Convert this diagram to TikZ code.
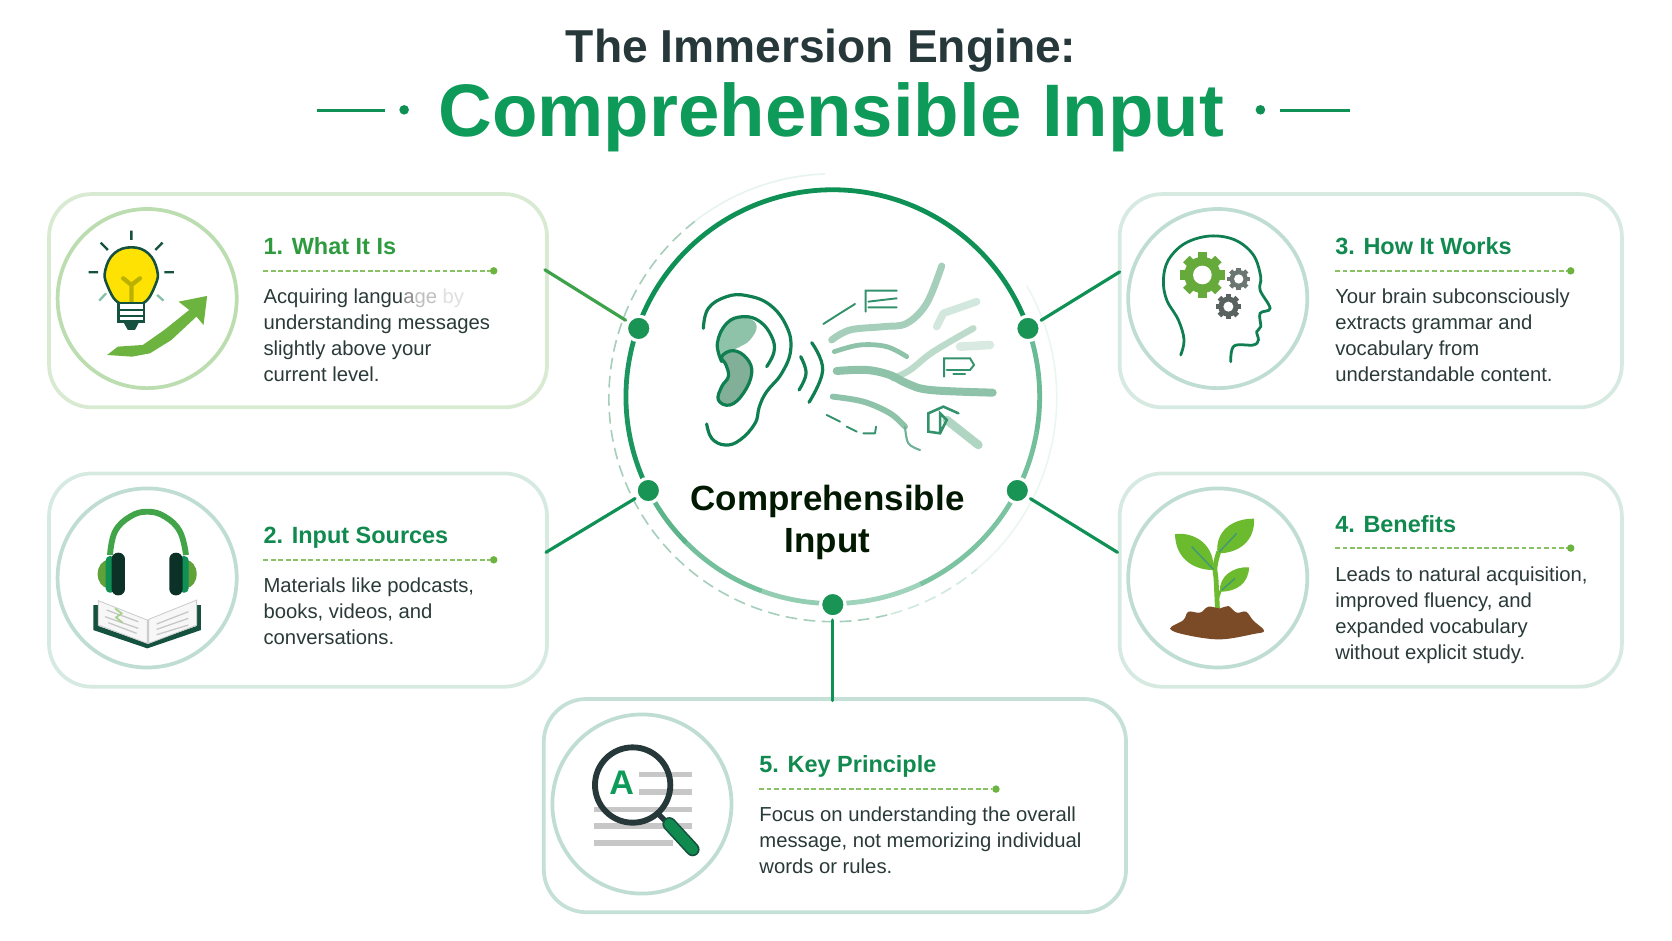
\documentclass[tikz,border=0pt]{standalone}
\usepackage{fontspec}
\setmainfont{Liberation Sans}
\definecolor{headgreen}{HTML}{0E9A58}
\definecolor{headdark}{HTML}{26383A}
\definecolor{hubgreen}{HTML}{0F9155}
\definecolor{dotgreen}{HTML}{1A9455}
\definecolor{inkgreen}{HTML}{0F7F52}
\definecolor{bodyink}{HTML}{2A3A38}
\definecolor{titlegreen}{HTML}{118A4F}
\definecolor{firstgreen}{HTML}{2E9B3F}
\definecolor{limegreen}{HTML}{6CB33F}
\definecolor{leafgreen}{HTML}{6CBB2E}
\definecolor{streamgreen}{HTML}{8FC3A9}
\definecolor{pinegreen}{HTML}{14513F}
\definecolor{soilbrown}{HTML}{7B4A26}
\definecolor{cardline}{HTML}{D6EAE2}
\definecolor{ringline}{HTML}{BFDDD2}
\definecolor{firstcard}{HTML}{D8EAD2}
\definecolor{firstring}{HTML}{BBDDB0}

\newcommand{\gearicon}[5]{
  \begin{scope}[shift={(#1,#2)}]
    \fill[#5] (0,0) circle ({#3*.8});
    \foreach \t in {0,45,...,315} {
      \fill[#5,rotate=\t] ({-.2*#3},{.7*#3}) rectangle ({.2*#3},{#3});
    }
    \fill[white] (0,0) circle (#4);
  \end{scope}
}

\begin{document}
\begin{tikzpicture}[x=1pt,y=-1pt]
  \tikzstyle{card}=[draw=cardline,fill=white,line width=3.5pt,rounded corners=40pt,inner sep=0pt,minimum height=200pt]
  \tikzstyle{ring}=[circle,draw=ringline,fill=white,line width=3.5pt,inner sep=0pt,minimum size=168pt]
  \tikzstyle{hubdot}=[circle,fill=dotgreen,draw=white,line width=3pt,inner sep=0pt,minimum size=23pt,outer sep=3pt]
  \tikzstyle{spoke}=[color=hubgreen,line width=3pt,line cap=round]
  \tikzstyle{capdot}=[circle,fill=limegreen,inner sep=0pt,minimum size=7pt]
  \tikzstyle{rule}=[color=limegreen!80,line width=1.3pt,dash pattern=on 4.5pt off 2.5pt]
  \tikzstyle{cardtitle}=[anchor=base west,inner sep=0pt,text=titlegreen,font=\fontsize{22}{26}\selectfont\bfseries]
  \tikzstyle{cardbody}=[anchor=north west,inner sep=0pt,align=left,text=bodyink,font=\fontsize{19}{24.4}\selectfont]
  \tikzstyle{stream}=[color=streamgreen,line cap=round,line join=round]
  \tikzstyle{scrap}=[color=inkgreen!85,line width=1.8pt,line cap=round]

  \fill[white] (0,0) rectangle (1568,882);
  \useasboundingbox (0,0) rectangle (1568,882);

  % heading
  \node[anchor=base,inner sep=0pt,text=headdark,font=\fontsize{43.3}{50}\selectfont\bfseries] (headline) at (770,59) {The Immersion Engine:};
  \node[anchor=base,inner sep=0pt,text=headgreen,font=\fontsize{69.8}{80}\selectfont\bfseries] (subline) at (779.5,128) {Comprehensible Input};
  \node[circle,fill=hubgreen,inner sep=0pt,minimum size=9pt] (ldot) at (379,103) {};
  \node[circle,fill=hubgreen,inner sep=0pt,minimum size=9pt] (rdot) at (1182,103) {};
  \coordinate (lfrom) at (297,103.5);
  \coordinate (lto) at (361,103.5);
  \coordinate (rfrom) at (1200,103.5);
  \coordinate (rto) at (1266,103.5);
  \draw[hubgreen,line width=2.5pt] (lfrom) -- (lto);
  \draw[hubgreen,line width=2.5pt] (rfrom) -- (rto);

  % cards
  \node[card,minimum width=467pt,draw=firstcard] (card1) at (279.5,282) {};
  \node[card,minimum width=467pt] (card2) at (279.5,544) {};
  \node[card,minimum width=471pt] (card3) at (1285.5,282) {};
  \node[card,minimum width=471pt] (card4) at (1285.5,544) {};
  \node[card,minimum width=546pt,draw=ringline!90] (card5) at (783,755.5) {};

  \node[ring,draw=firstring] (ring1) at (138,280) {};
  \node[ring] (ring2) at (138,542) {};
  \node[ring] (ring3) at (1142,280) {};
  \node[ring] (ring4) at (1142,542) {};
  \node[ring] (ring5) at (602,754) {};

  % outer ring
  \coordinate (outer) at (781,373);
  \draw[streamgreen!80,line width=1.5pt,dash pattern=on 11pt off 6pt] (outer) ++(128:210pt) arc[start angle=128,end angle=285,radius=210pt];
  \draw[hubgreen!10,line width=1.5pt] (outer) ++(128:210pt) arc[start angle=128,end angle=92,radius=210pt];
  \draw[hubgreen!8,line width=1.5pt] (outer) ++(-50:210pt) arc[start angle=-50,end angle=30,radius=210pt];
  \draw[hubgreen!20,line width=1.5pt,dash pattern=on 11pt off 6pt] (outer) ++(285:210pt) arc[start angle=285,end angle=310,radius=210pt];

  % hub circle
  \coordinate (hub) at (781,372);
  \foreach \a/\b/\p in {19.3/160.6/100,160.6/207/95,207/225/68,225/250/58,250/270/45,270/295/40,295/333/55,333/350/58,350/379.3/62} {
    \draw[hubgreen!\p,line width=4.5pt] (hub) ++(\a:194pt) arc[start angle=\a,end angle=\b,radius=194pt];
  }
  \node[hubdot] (dot1) at (599,308) {};
  \node[hubdot] (dot2) at (608,460) {};
  \node[hubdot] (dot3) at (964,308) {};
  \node[hubdot] (dot4) at (954,460) {};
  \node[hubdot] (dot5) at (781,567) {};

  \node[align=center,inner sep=0pt,text=black!90!green,font=\fontsize{32.8}{39}\selectfont\bfseries] (hublabel) at (776,490) {Comprehensible\\Input};

  % spokes
  \coordinate (tip1) at (511,253);
  \coordinate (tip2) at (512,518);
  \coordinate (tip3) at (1050,255);
  \coordinate (tip4) at (1048,518);
  \coordinate (tip5) at (781,657);
  \draw[spoke,color=limegreen!50!hubgreen] (tip1) -- (dot1);
  \path[spoke] (tip2) edge (dot2);
  \path[spoke] (tip3) edge (dot3);
  \path[spoke] (tip4) edge (dot4);
  \path[spoke] (tip5) edge (dot5);

  % card texts
  \node[cardtitle,text=firstgreen] (title1) at (247,239) {1. What It Is};
  \node[cardtitle] (title2) at (247,510) {2. Input Sources};
  \node[cardtitle] (title3) at (1252,239) {3. How It Works};
  \node[cardtitle] (title4) at (1252,499) {4. Benefits};
  \node[cardtitle] (title5) at (712,724) {5. Key Principle};

  \node[cardbody] (body1) at (247,271) {Acquiring langu\textcolor{black!45}{a}\textcolor{black!25}{ge} \textcolor{black!12}{by}\\understanding messages\\slightly above your\\current level.};
  \node[cardbody] (body2) at (247,542) {Materials like podcasts,\\books, videos, and\\conversations.};
  \node[cardbody] (body3) at (1252,271) {Your brain subconsciously\\extracts grammar and\\vocabulary from\\understandable content.};
  \node[cardbody] (body4) at (1252,531) {Leads to natural acquisition,\\improved fluency, and\\expanded vocabulary\\without explicit study.};
  \node[cardbody] (body5) at (712,756) {Focus on understanding the overall\\message, not memorizing individual\\words or rules.};

  \coordinate (rule1) at (247,254);
  \coordinate (rule2) at (247,525);
  \coordinate (rule3) at (1252,254);
  \coordinate (rule4) at (1252,514);
  \coordinate (rule5) at (712,740);
  \node[capdot] (cap1) at (463,254) {};
  \node[capdot] (cap2) at (463,525) {};
  \node[capdot] (cap3) at (1473,254) {};
  \node[capdot] (cap4) at (1473,514) {};
  \node[capdot] (cap5) at (934,740) {};
  \draw[rule] (rule1) -- (cap1);
  \draw[rule] (rule2) -- (cap2);
  \draw[rule] (rule3) -- (cap3);
  \draw[rule] (rule4) -- (cap4);
  \draw[rule] (rule5) -- (cap5);

  % ear and sound streams
  \begin{scope}[shift={(562.7,159.4)},x=.3126pt,y=-.3126pt]
    \fill[streamgreen] plot[smooth cycle,tension=.7] coordinates {(355,555)(355,500)(395,450)(445,445)(470,470)(450,510)(420,530)(400,540)(375,550)};
    \draw[inkgreen,line width=3pt,line cap=round,fill=streamgreen!90!black] plot[smooth cycle,tension=.7] coordinates {(365,560)(400,542)(440,565)(455,610)(430,670)(390,705)(355,690)(365,650)(385,620)(378,585)};
    \draw[inkgreen,line width=3pt,line cap=round] plot[smooth,tension=.7] coordinates {(310,475)(325,415)(380,380)(440,377)(510,405)(560,470)(572,540)(545,610)(500,665)(478,710)(465,760)(420,810)(375,825)(335,805)(320,762)};
    \draw[inkgreen,line width=3pt,line cap=round] plot[smooth,tension=.7] coordinates {(365,575)(352,520)(380,460)(430,440)(480,455)(515,500)(522,545)(500,590)};
    \draw[inkgreen,line width=3pt,line cap=round] plot[smooth,tension=.7] coordinates {(602,560)(618,610)(597,660)};
    \draw[inkgreen,line width=3pt,line cap=round] plot[smooth,tension=.7] coordinates {(635,518)(668,600)(627,697)};

    \draw[stream,streamgreen!80,line width=6.5pt] plot[smooth,tension=.6] coordinates {(695,510)(750,480)(850,470)(920,460)(980,400)(1025,288)};
    \draw[stream,line width=4.5pt] plot[smooth,tension=.6] coordinates {(703,545)(780,525)(860,530)(920,560)};
    \draw[stream,streamgreen!60,line width=6pt] plot[smooth,tension=.6] coordinates {(880,625)(930,600)(1000,545)(1120,475)};
    \draw[stream,line width=7.5pt] plot[smooth,tension=.6] coordinates {(710,603)(800,600)(870,615)(920,640)(990,660)(1178,668)};
    \draw[stream,line width=5.5pt] plot[smooth,tension=.6] coordinates {(698,680)(790,695)(870,730)(915,770)};
    \draw[stream,inkgreen!60,line width=2pt] plot[smooth,tension=.6] coordinates {(915,770)(925,820)(960,840)};
    \draw[stream,streamgreen!70,line width=8pt] (1040,750) -- (1135,825);
    \draw[stream,streamgreen!40,line width=7pt] (1010,470) -- (1030,430) -- (1130,395);
    \draw[stream,streamgreen!35,line width=8pt] (1080,530) -- (1170,525);

    \draw[scrap] (670,462) -- (720,430) -- (765,402);
    \draw[scrap] (797,425) -- (797,362) -- (890,362) (805,395) -- (890,385) (805,412) -- (890,412);
    \draw[scrap] (1032,620) -- (1032,565) -- (1110,565) -- (1122,585) -- (1110,600) -- (1040,600);
    \draw[scrap] (1060,612) -- (1095,612);
    \draw[scrap,line width=2.4pt] (1075,730) -- (1030,710) -- (985,730) -- (985,785) -- (1020,790) -- (1040,750) -- (1020,730) -- (1020,790);
    \draw[scrap] (680,735) -- (720,755) (740,770) -- (770,785) (790,790) -- (825,790) (828,770) -- (825,790);
  \end{scope}

  % bulb and arrow
  \begin{scope}[shift={(0,159.4)},x=.3349pt,y=-.3126pt]
    \draw[pinegreen,line width=2.2pt] (368,182) -- (368,210) (282,218) -- (302,240) (455,218) -- (435,240) (248,307) -- (275,307) (460,307) -- (487,307);
    \draw[inkgreen!50,line width=2.2pt] (278,392) -- (297,370) (458,392) -- (440,375);
    \draw[pinegreen,line width=2.4pt,fill=yellow!85!orange] plot[smooth cycle,tension=.7] coordinates {(335,400)(300,345)(295,300)(320,250)(368,232)(415,250)(440,300)(435,345)(400,400)};
    \draw[olive!60!yellow,line width=4pt,line cap=round] (368,395) -- (368,345) -- (345,325) (368,345) -- (392,325);
    \draw[pinegreen,line width=2.2pt,fill=white] (332,400) rectangle (403,455);
    \draw[pinegreen,line width=2.2pt] (332,420) -- (403,420) (332,438) -- (403,438);
    \fill[pinegreen] (345,455) -- (390,455) -- (378,480) -- (358,480) -- cycle;
    \fill[limegreen] (300,555) -- (330,530) -- (400,525) -- (460,480) -- (530,420) -- (500,395) -- (580,378) -- (570,465) -- (550,440) -- (480,510) -- (420,550) -- (370,560) -- cycle;
  \end{scope}

  % headphones and book
  \begin{scope}[shift={(37.5,440.8)},x=.3126pt,y=-.3126pt]
    \draw[limegreen!55!hubgreen,line width=5.5pt] plot[smooth,tension=.7] coordinates {(210,255)(225,185)(270,140)(322,125)(375,140)(420,185)(438,255)};
    \fill[limegreen!90!black] (205,312) ellipse (32 and 42);
    \fill[limegreen!90!black] (438,312) ellipse (32 and 42);
    \fill[hubgreen,rounded corners=4pt] (197,258) rectangle (225,368);
    \fill[hubgreen,rounded corners=4pt] (418,258) rectangle (446,368);
    \fill[pinegreen!60!black,rounded corners=6pt] (215,248) rectangle (255,376);
    \fill[pinegreen!60!black,rounded corners=6pt] (388,248) rectangle (428,376);
    \fill[pinegreen] (160,405) -- (175,405) -- (175,468) -- (322,520) -- (470,468) -- (470,405) -- (483,405) -- (483,480) -- (322,535) -- (160,480) -- cycle;
    \draw[black!20,line width=.8pt,fill=black!3] (175,392) -- (322,450) -- (322,520) -- (175,465) -- cycle;
    \draw[black!20,line width=.8pt,fill=black!3] (470,390) -- (326,448) -- (326,520) -- (470,465) -- cycle;
    \draw[black!22,line width=1.2pt] (200,420) -- (295,455) (195,440) -- (295,475) (205,458) -- (290,490) (350,462) -- (445,425) (350,478) -- (445,445) (350,494) -- (445,465);
    \draw[limegreen!60,line width=1.6pt] (225,415) -- (245,430) -- (228,442) -- (248,458);
  \end{scope}

  % head with gears
  \begin{scope}[shift={(1041,168.8)},x=.3126pt,y=-.3126pt]
    \draw[inkgreen,line width=2.6pt,line cap=round] plot[smooth,tension=.6] coordinates {(212,525)(222,480)(205,420)(170,360)(160,300)(175,240)(225,190)(300,168)(375,180)(430,225)(452,290)(450,330)(480,385)(450,400)(452,440)(440,455)(445,480)(430,495)(372,498)(362,545)};
    \gearicon{277}{285}{68}{28}{limegreen!95!black}
    \gearicon{386}{297}{34}{14}{black!50!cardline}
    \gearicon{355}{380}{38}{15}{black!58!cardline}
  \end{scope}

  % plant
  \begin{scope}[shift={(1050.4,440.8)},x=.3126pt,y=-.3126pt]
    \draw[leafgreen,line width=4.5pt] plot[smooth,tension=.7] coordinates {(292,415)(288,330)(285,290)(296,245)};
    \draw[leafgreen,line width=3pt] (290,390) -- (300,362);
    \fill[leafgreen] (165,192) .. controls (230,185) and (285,230) .. (280,300) .. controls (215,300) and (165,260) .. cycle;
    \fill[leafgreen] (402,146) .. controls (340,145) and (285,180) .. (292,250) .. controls (360,250) and (405,210) .. cycle;
    \fill[leafgreen] (387,292) .. controls (340,288) and (295,320) .. (300,365) .. controls (350,365) and (385,340) .. cycle;
    \draw[streamgreen!40!inkgreen,line width=1.4pt] (215,230) -- (280,298) (350,190) -- (298,245) (345,325) -- (305,360);
    \fill[soilbrown] plot[smooth cycle,tension=.6] coordinates {(150,476)(190,450)(205,425)(240,428)(265,410)(300,415)(325,408)(350,428)(378,425)(400,452)(432,482)(400,492)(300,508)(200,495)};
  \end{scope}

  % magnifier
  \begin{scope}[shift={(506.4,647.1)},x=.3126pt,y=-.3126pt]
    \draw[black!22,line width=5pt] (298,254) -- (455,254) (298,306) -- (455,306) (163,358) -- (455,358) (163,408) -- (455,408) (163,459) -- (400,459);
    \node[inner sep=0pt,text=headgreen,font=\fontsize{32}{36}\selectfont\bfseries] (letter) at (245,278) {A};
    \draw[headdark,line width=5.5pt] (278,285) circle (113);
    \draw[headdark,line width=5pt] (355,372) -- (385,402);
    \draw[pinegreen,line width=13pt,line cap=round] (388,402) -- (458,478);
    \draw[titlegreen,line width=10pt,line cap=round] (388,402) -- (458,478);
  \end{scope}
\end{tikzpicture}
\end{document}
